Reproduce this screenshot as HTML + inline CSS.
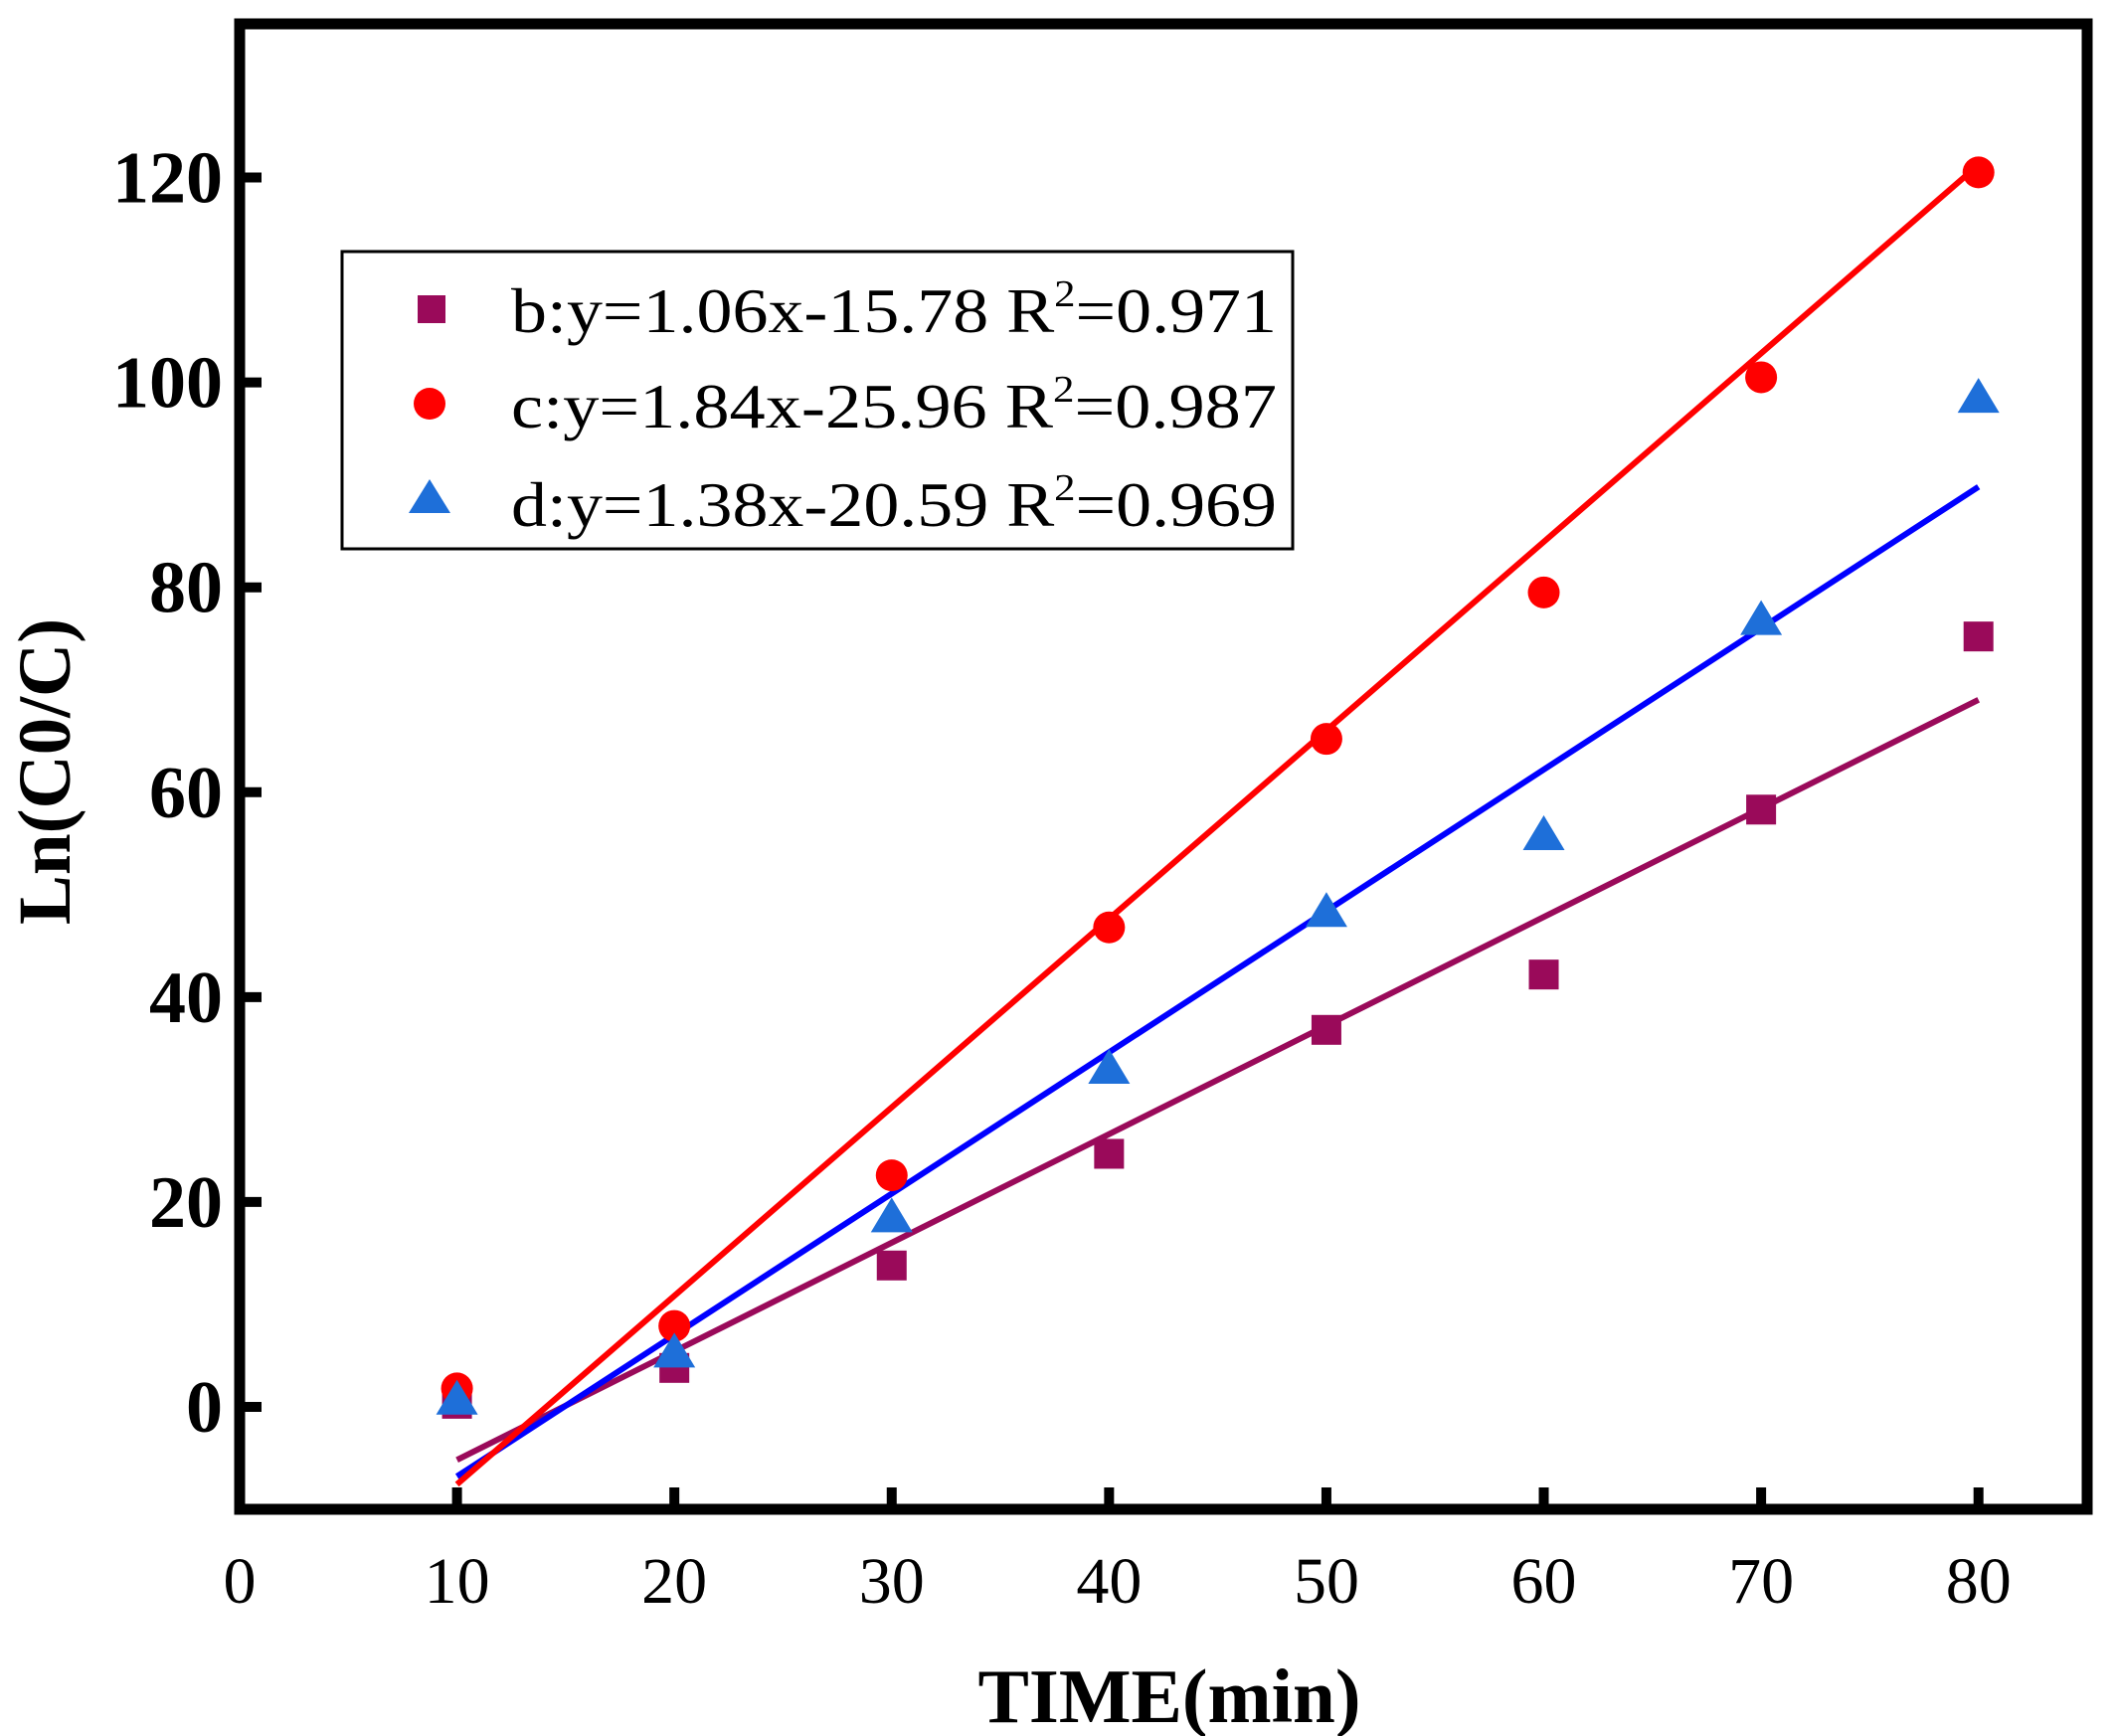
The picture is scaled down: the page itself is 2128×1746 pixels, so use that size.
<!DOCTYPE html>
<html><head><meta charset="utf-8"><style>
html,body{margin:0;padding:0;background:#fff;}
svg{display:block;font-family:"Liberation Serif",serif;}
</style></head><body>
<svg id="chart" width="2128" height="1746" viewBox="0 0 2128 1746" xmlns="http://www.w3.org/2000/svg">
<rect x="0" y="0" width="2128" height="1746" fill="#fff"/>
<g id="marks"></g>
<rect x="241" y="24" width="1858" height="1494" fill="none" stroke="#000" stroke-width="11"/>
<g id="axes"></g>
<text x="1176" y="1732" font-size="77" font-weight="bold" text-anchor="middle">TIME(min)</text>
<text transform="translate(70,776) rotate(-90)" font-size="75" font-weight="bold" text-anchor="middle">Ln(C0/C)</text>
<g>
<rect x="344" y="253" width="956" height="299" fill="#fff" stroke="#000" stroke-width="3"/>
<rect x="420" y="297" width="28" height="28" fill="#9a0a5a"/>
<text x="514" y="334" font-size="64" textLength="770" lengthAdjust="spacingAndGlyphs">b:y=1.06x-15.78  R<tspan dy="-26" font-size="38">2</tspan><tspan dy="26">=0.971</tspan></text>
<circle cx="432" cy="406" r="16" fill="#ff0000"/>
<text x="514" y="430" font-size="64" textLength="770" lengthAdjust="spacingAndGlyphs">c:y=1.84x-25.96  R<tspan dy="-26" font-size="38">2</tspan><tspan dy="26">=0.987</tspan></text>
<polygon points="432,482 411,516 453,516" fill="#1e6fd9"/>
<text x="514" y="529" font-size="64" textLength="770" lengthAdjust="spacingAndGlyphs">d:y=1.38x-20.59  R<tspan dy="-26" font-size="38">2</tspan><tspan dy="26">=0.969</tspan></text>
</g>
</svg>
<script>
const times = [10,20,30,40,50,60,70,80];
const seriesB = [0.3,3.8,13.8,24.7,36.8,42.2,58.3,75.2];
const seriesC = [1.8,7.9,22.6,46.8,65.2,79.5,100.5,120.5];
const seriesD = [0.7,5.3,18.5,33.0,48.3,55.8,76.8,98.5];
const fitB = [1.06,-15.78];
const fitC = [1.84,-25.96];
const fitD = [1.38,-20.59];
const xTicks = [0,10,20,30,40,50,60,70,80];
const yTicks = [0,20,40,60,80,100,120];

const X0=241,X1=2099,Y0=1518,Y1=24,XMIN=0,XMAX=85,YMIN=-10,YMAX=135;
const sx=v=>X0+(v-XMIN)/(XMAX-XMIN)*(X1-X0);
const sy=v=>Y0-(v-YMIN)/(YMAX-YMIN)*(Y0-Y1);
const NS="http://www.w3.org/2000/svg";
const marks=document.getElementById('marks');
const axes=document.getElementById('axes');
function mk(tag,attrs,parent){const e=document.createElementNS(NS,tag);for(const k in attrs)e.setAttribute(k,attrs[k]);parent.appendChild(e);return e;}

xTicks.forEach(t=>{
  if(t>0){const l=mk('line',{x1:sx(t),x2:sx(t),y1:Y0,y2:Y0-22,stroke:'#000','stroke-width':10},axes);
  
  }
  const tx=mk('text',{x:sx(t),y:1612,'font-size':66,'text-anchor':'middle'},axes);
  tx.textContent=t;
  
  
});
yTicks.forEach(t=>{
  const l=mk('line',{x1:X0,x2:X0+22,y1:sy(t),y2:sy(t),stroke:'#000','stroke-width':10},axes);
  
  
  const tx=mk('text',{x:224,y:sy(t)+25,'font-size':74,'font-weight':'bold','text-anchor':'end'},axes);
  tx.textContent=t;
  
  
});

function fitLine(fit,color,name){
  const a=times[0],b=times[times.length-1];
  const l=mk('line',{x1:sx(a),y1:sy(fit[0]*a+fit[1]),x2:sx(b),y2:sy(fit[0]*b+fit[1]),stroke:color,'stroke-width':6},marks);
  
  
}
fitLine(fitB,'#9a0a5a','fit-line-b');
fitLine(fitD,'#0000ff','fit-line-d');
fitLine(fitC,'#ff0000','fit-line-c');

seriesB.forEach((v,i)=>{
  const r=mk('rect',{x:sx(times[i])-15,y:sy(v)-15,width:30,height:30,fill:'#9a0a5a'},marks);
  
  
});
seriesC.forEach((v,i)=>{
  const c=mk('circle',{cx:sx(times[i]),cy:sy(v),r:16,fill:'#ff0000'},marks);
  
  
});
seriesD.forEach((v,i)=>{
  const x=sx(times[i]),y=sy(v);
  const p=mk('polygon',{points:`${x},${y-20} ${x-21},${y+15} ${x+21},${y+15}`,fill:'#1e6fd9'},marks);
  
  
});
</script>
</body></html>
